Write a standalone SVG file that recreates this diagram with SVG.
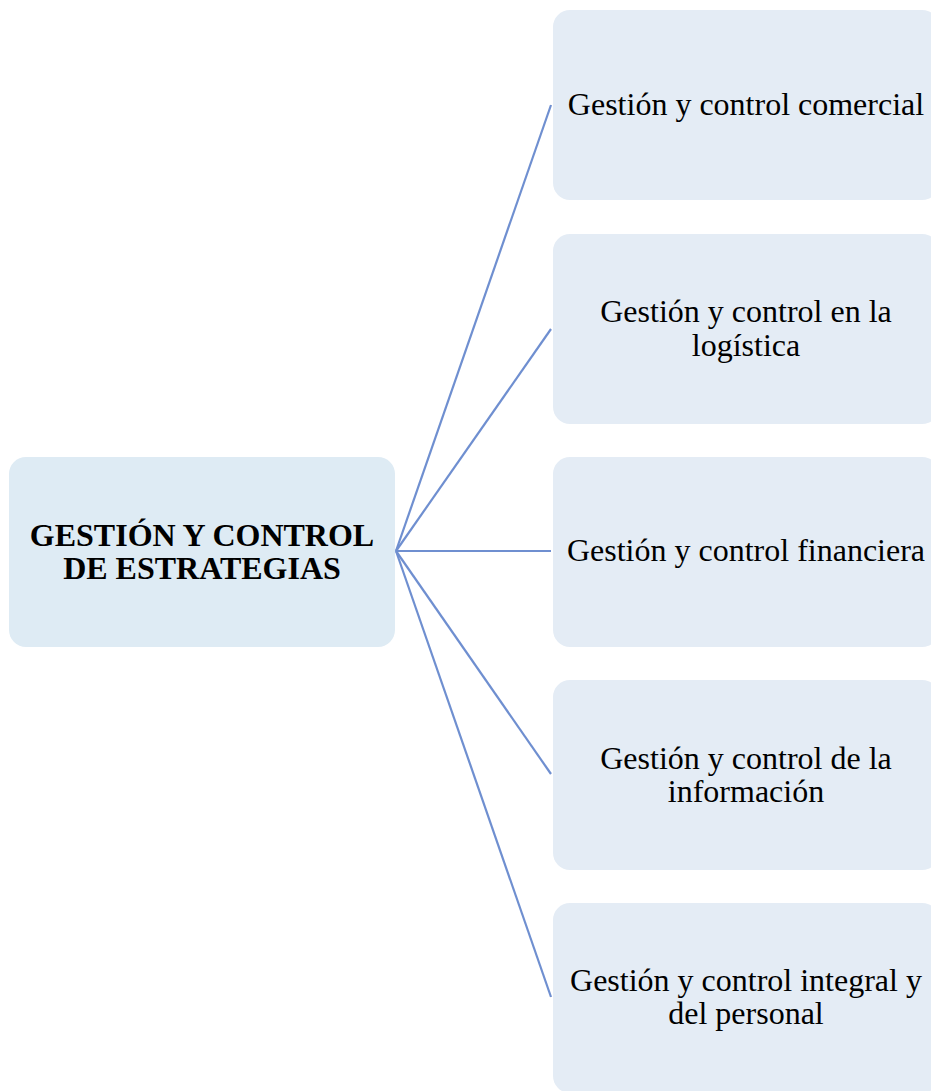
<svg xmlns="http://www.w3.org/2000/svg" width="931" height="1091" viewBox="0 0 931 1091">
  <style>
    .hub { fill: #DEEBF4; }
    .leaf { fill: #E4ECF5; }
    .link { stroke: #6F8FD0; stroke-width: 2.2; fill: none; }
    .t { font-family: "Liberation Serif", "Times New Roman", serif; font-size: 32px; fill: #000; text-anchor: middle; }
    .tb { font-weight: bold; }
  </style>
  <rect width="931" height="1091" fill="#FFFFFF"/>

  <g id="connectors">
    <line class="link" x1="396" y1="551" x2="551" y2="105"/>
    <line class="link" x1="396" y1="551" x2="551" y2="329"/>
    <line class="link" x1="396" y1="551" x2="551" y2="551"/>
    <line class="link" x1="396" y1="551" x2="551" y2="774"/>
    <line class="link" x1="396" y1="551" x2="551" y2="997"/>
  </g>

  <g id="hub">
    <rect class="hub" x="9" y="457" width="386" height="190" rx="17"/>
    <text class="t tb" x="202" y="546">GESTIÓN Y CONTROL</text>
    <text class="t tb" x="202" y="579">DE ESTRATEGIAS</text>
  </g>

  <g id="comercial">
    <rect class="leaf" x="553" y="10" width="386" height="190" rx="17"/>
    <text class="t" x="746" y="115">Gestión y control comercial</text>
  </g>

  <g id="logistica">
    <rect class="leaf" x="553" y="234" width="386" height="190" rx="17"/>
    <text class="t" x="746" y="322">Gestión y control en la</text>
    <text class="t" x="746" y="356">logística</text>
  </g>

  <g id="financiera">
    <rect class="leaf" x="553" y="457" width="386" height="190" rx="17"/>
    <text class="t" x="746" y="561">Gestión y control financiera</text>
  </g>

  <g id="informacion">
    <rect class="leaf" x="553" y="680" width="386" height="190" rx="17"/>
    <text class="t" x="746" y="769">Gestión y control de la</text>
    <text class="t" x="746" y="802">información</text>
  </g>

  <g id="personal">
    <rect class="leaf" x="553" y="903" width="386" height="190" rx="17"/>
    <text class="t" x="746" y="991">Gestión y control integral y</text>
    <text class="t" x="746" y="1024">del personal</text>
  </g>
</svg>
